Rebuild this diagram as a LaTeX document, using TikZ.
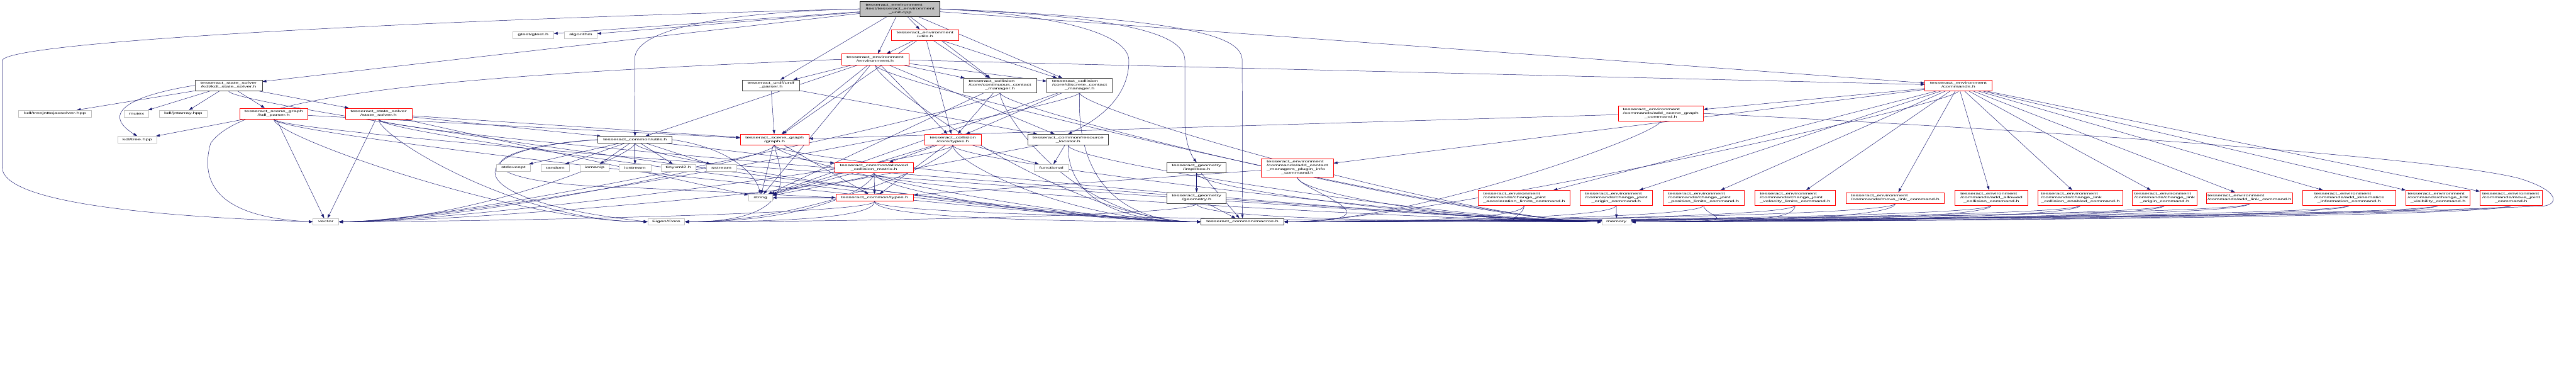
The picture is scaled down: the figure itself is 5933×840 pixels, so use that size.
\documentclass[tikz,border=0pt]{standalone}
\usepackage{fontspec}
\setmainfont{Liberation Sans}[FakeStretch=1.85]
\usetikzlibrary{arrows.meta,backgrounds}
\definecolor{edgeblue}{HTML}{191970}
\definecolor{boxred}{HTML}{FF0000}
\definecolor{boxgray}{HTML}{BFBFBF}
\definecolor{boxdark}{HTML}{404040}
% first lines flush left, last line centred (doxygen style)
\newcommand{\dlines}[2]{\begin{tabular}{@{}l@{}}#1\\\multicolumn{1}{@{}c@{}}{#2}\end{tabular}}

\begin{document}
\begin{tikzpicture}[x=1pt,y=1pt,line cap=round,
  incbox/.style={draw,fill=white,line width=0.9pt,inner sep=0pt,
    font=\fontsize{7}{8.7}\selectfont},
  redbox/.style={incbox,draw=boxred},
  darkbox/.style={incbox,draw=boxdark},
  sysbox/.style={incbox,draw=boxgray,minimum height=15.5pt},
  mainbox/.style={incbox,draw=black,fill=boxgray},
  edge/.style={draw=edgeblue,line width=0.7pt,-{Triangle[length=9pt,width=6pt]}}]
  \useasboundingbox (0,0) rectangle (5933,-840);

  % top rows
  \node[mainbox,minimum width=184pt,minimum height=35pt] (main) at (2073,-20.5)
    {\dlines{tesseract\_environment\\/test/tesseract\_environment}{\_unit.cpp}};
  \node[redbox,minimum width=155pt,minimum height=25pt] (eutils) at (2130.5,-80.5)
    {\dlines{tesseract\_environment}{/utils.h}};
  \node[redbox,minimum width=155pt,minimum height=25pt] (env) at (2015.5,-136.5)
    {\dlines{tesseract\_environment}{/environment.h}};
  \node[sysbox,minimum width=94pt] (gtest) at (1228,-80.5) {gtest/gtest.h};
  \node[sysbox,minimum width=75pt] (algo) at (1337.5,-80.5) {algorithm};
  \node[darkbox,minimum width=155pt,minimum height=25pt] (kss) at (526.5,-196.5)
    {\dlines{tesseract\_state\_solver}{/kdl/kdl\_state\_solver.h}};
  \node[darkbox,minimum width=131pt,minimum height=25pt] (urdf) at (1775.5,-196.5)
    {\dlines{tesseract\_urdf/urdf}{\_parser.h}};
  \node[darkbox,minimum width=168pt,minimum height=33pt] (cont) at (2303,-196.5)
    {\dlines{tesseract\_collision\\/core/continuous\_contact}{\_manager.h}};
  \node[darkbox,minimum width=151pt,minimum height=33pt] (disc) at (2486.5,-196.5)
    {\dlines{tesseract\_collision\\/core/discrete\_contact}{\_manager.h}};
  \node[redbox,minimum width=155pt,minimum height=25pt] (cmds) at (4510.5,-196.5)
    {\dlines{tesseract\_environment}{/commands.h}};

  % middle rows
  \node[sysbox,minimum width=167pt] (tjac) at (126.5,-261.5) {kdl/treejnttojacsolver.hpp};
  \node[sysbox,minimum width=57pt] (mutex) at (314.5,-261.5) {mutex};
  \node[sysbox,minimum width=110pt] (jnt) at (422,-261.5) {kdl/jntarray.hpp};
  \node[redbox,minimum width=157pt,minimum height=25pt] (kpar) at (630.5,-261.5)
    {\dlines{tesseract\_scene\_graph}{/kdl\_parser.h}};
  \node[redbox,minimum width=154pt,minimum height=25pt] (ssol) at (872,-261.5)
    {\dlines{tesseract\_state\_solver}{/state\_solver.h}};
  \node[redbox,minimum width=196pt,minimum height=34pt] (asg) at (3825,-261)
    {\dlines{tesseract\_environment\\/commands/add\_scene\_graph}{\_command.h}};
  \node[sysbox,minimum width=90pt] (tree) at (316,-321.5) {kdl/tree.hpp};
  \node[darkbox,minimum width=171pt,minimum height=15pt] (cutils) at (1462.5,-321.5)
    {tesseract\_common/utils.h};
  \node[redbox,minimum width=158pt,minimum height=25pt] (graph) at (1784,-321.5)
    {\dlines{tesseract\_scene\_graph}{/graph.h}};
  \node[redbox,minimum width=131pt,minimum height=25pt] (coltypes) at (2194.5,-321.5)
    {\dlines{tesseract\_collision}{/core/types.h}};
  \node[darkbox,minimum width=186pt,minimum height=25pt] (resloc) at (2460,-321.5)
    {\dlines{tesseract\_common/resource}{\_locator.h}};
  \node[sysbox,minimum width=79pt] (stdexc) at (1182.5,-386) {stdexcept};
  \node[sysbox,minimum width=65pt] (random) at (1278.5,-386) {random};
  \node[sysbox,minimum width=67pt] (iomanip) at (1369.5,-386) {iomanip};
  \node[sysbox,minimum width=73pt] (iostream) at (1462.5,-386) {iostream};
  \node[sysbox,minimum width=79pt] (tinyxml) at (1562.5,-386) {tinyxml2.h};
  \node[sysbox,minimum width=69pt] (sstream) at (1661.5,-386) {sstream};
  \node[redbox,minimum width=182pt,minimum height=24pt] (acm) at (2013,-386)
    {\dlines{tesseract\_common/allowed}{\_collision\_matrix.h}};
  \node[sysbox,minimum width=79pt] (functional) at (2421.5,-386) {functional};
  \node[darkbox,minimum width=136pt,minimum height=24pt] (box) at (2756,-386)
    {\dlines{tesseract\_geometry}{/impl/box.h}};
  \node[redbox,minimum width=166pt,minimum height=42pt] (acmp) at (2988,-386)
    {\dlines{tesseract\_environment\\/commands/add\_contact\\\_managers\_plugin\_info}{\_command.h}};
  \node[sysbox,minimum width=55pt] (string) at (1751.5,-455) {string};
  \node[redbox,minimum width=179pt,minimum height=16pt] (comtypes) at (2014.5,-455)
    {tesseract\_common/types.h};
  \node[darkbox,minimum width=136pt,minimum height=25pt] (geom) at (2756,-455.5)
    {\dlines{tesseract\_geometry}{/geometry.h}};

  % command headers
  \node[redbox,minimum width=211pt,minimum height=34pt] (acc) at (3510.5,-455)
    {\dlines{tesseract\_environment\\/commands/change\_joint}{\_acceleration\_limits\_command.h}};
  \node[redbox,minimum width=167pt,minimum height=34pt] (jorg) at (3722.5,-455)
    {\dlines{tesseract\_environment\\/commands/change\_joint}{\_origin\_command.h}};
  \node[redbox,minimum width=187pt,minimum height=34pt] (jpos) at (3923.5,-455)
    {\dlines{tesseract\_environment\\/commands/change\_joint}{\_position\_limits\_command.h}};
  \node[redbox,minimum width=185pt,minimum height=34pt] (jvel) at (4134.5,-455)
    {\dlines{tesseract\_environment\\/commands/change\_joint}{\_velocity\_limits\_command.h}};
  \node[redbox,minimum width=226pt,minimum height=25pt] (mlink) at (4365,-455.5)
    {\dlines{tesseract\_environment}{/commands/move\_link\_command.h}};
  \node[redbox,minimum width=167pt,minimum height=34pt] (aacm) at (4586.5,-455)
    {\dlines{tesseract\_environment\\/commands/add\_allowed}{\_collision\_command.h}};
  \node[redbox,minimum width=195pt,minimum height=34pt] (lcol) at (4791.5,-455)
    {\dlines{tesseract\_environment\\/commands/change\_link}{\_collision\_enabled\_command.h}};
  \node[redbox,minimum width=149pt,minimum height=34pt] (lorg) at (4985.5,-455)
    {\dlines{tesseract\_environment\\/commands/change\_link}{\_origin\_command.h}};
  \node[redbox,minimum width=198pt,minimum height=25pt] (alink) at (5181,-455.5)
    {\dlines{tesseract\_environment}{/commands/add\_link\_command.h}};
  \node[redbox,minimum width=215pt,minimum height=34pt] (akin) at (5410.5,-455)
    {\dlines{tesseract\_environment\\/commands/add\_kinematics}{\_information\_command.h}};
  \node[redbox,minimum width=148pt,minimum height=34pt] (lvis) at (5615,-455)
    {\dlines{tesseract\_environment\\/commands/change\_link}{\_visibility\_command.h}};
  \node[redbox,minimum width=143pt,minimum height=34pt] (mjoint) at (5783.5,-455)
    {\dlines{tesseract\_environment\\/commands/move\_joint}{\_command.h}};

  % bottom row
  \node[sysbox,minimum width=59pt] (vector) at (750.5,-510.5) {vector};
  \node[sysbox,minimum width=85pt] (eigen) at (1534.5,-510.5) {Eigen/Core};
  \node[darkbox,minimum width=191pt,minimum height=15.5pt] (macros) at (2861.5,-510.5)
    {tesseract\_common/macros.h};
  \node[sysbox,minimum width=68pt] (memory) at (3723,-510.5) {memory};

  \begin{pgfonlayer}{background}
  % plain includes
  \foreach \src/\dst in {main/gtest,main/algo,main/kss,main/urdf,main/eutils,main/env,
      main/cont,main/disc,main/cmds,
      eutils/env,eutils/coltypes,eutils/cont,eutils/disc,eutils/graph,
      env/cutils,env/urdf,env/graph,env/string,env/cmds,env/resloc,env/coltypes,
      env/cont,env/disc,
      kss/tjac,kss/mutex,kss/jnt,kss/kpar,kss/ssol,
      kpar/tree,kpar/graph,kpar/vector,
      ssol/vector,ssol/graph,ssol/cutils,ssol/string,
      urdf/graph,urdf/resloc,
      cutils/stdexc,cutils/random,cutils/iomanip,cutils/iostream,cutils/tinyxml,
      cutils/sstream,cutils/acm,
      graph/string,graph/comtypes,
      coltypes/acm,coltypes/comtypes,coltypes/functional,coltypes/string,
      cont/coltypes,cont/string,disc/coltypes,disc/string,
      resloc/functional,resloc/string,
      acm/comtypes,acm/string,comtypes/string,
      box/geom,box/macros,geom/macros,
      cmds/acmp,cmds/asg,cmds/acc,cmds/jorg,cmds/jpos,cmds/jvel,cmds/mlink,cmds/aacm,
      cmds/lcol,cmds/lorg,cmds/alink,cmds/akin,cmds/lvis,cmds/mjoint,
      asg/graph,acmp/comtypes,jorg/memory}
    \draw[edge] (\src) -- (\dst);
  % bundles running in along the bottom row, from the left
  \foreach \src/\dst in {kpar/eigen,ssol/eigen,
      env/macros,kss/macros,kpar/macros,ssol/macros,cutils/macros,graph/macros,
      coltypes/macros,cont/macros,disc/macros,resloc/macros,acm/macros,comtypes/macros,
      env/memory,kpar/memory,ssol/memory,graph/memory,coltypes/memory,cont/memory,
      disc/memory,resloc/memory,acm/memory,comtypes/memory,box/memory,geom/memory,
      acmp/memory,acc/memory}
    \draw[edge] (\src.south) .. controls +(0,-40) and +(-300,0) .. (\dst.west);
  % ... and from the right
  \foreach \src/\dst in {cutils/vector,graph/vector,coltypes/vector,cont/vector,
      disc/vector,acm/vector,comtypes/vector,
      graph/eigen,coltypes/eigen,acm/eigen,comtypes/eigen,geom/eigen,
      acmp/macros,asg/macros,cmds/macros,
      acc/macros,jorg/macros,jpos/macros,jvel/macros,mlink/macros,aacm/macros,
      lcol/macros,lorg/macros,alink/macros,akin/macros,lvis/macros,mjoint/macros,
      jpos/memory,jvel/memory,mlink/memory,aacm/memory,lcol/memory,lorg/memory,
      alink/memory,akin/memory,lvis/memory,mjoint/memory}
    \draw[edge] (\src.south) .. controls +(0,-30) and +(300,0) .. (\dst.east);
  % long detours
  \draw[edge] (main.west) .. controls (1000,-45) and (5,-95) .. (5,-140) -- (5,-385)
    .. controls (5,-460) and (300,-497) .. (vector.west);
  \draw[edge] (env.west) .. controls (1000,-175) and (560,-220) .. (485,-330)
    .. controls (460,-420) and (500,-500) .. (vector.west);
  \draw[edge] (main.west) .. controls (1600,-30) and (1462,-80) .. (1462,-135) -- (cutils.north);
  \draw[edge] (main.east) .. controls (2450,-35) and (2600,-80) .. (2600,-140)
    .. controls (2600,-230) and (2520,-280) .. (resloc.north);
  \draw[edge] (main.east) .. controls (2650,-40) and (2729,-90) .. (2729,-140) -- (2729,-280)
    .. controls (2729,-330) and (2745,-360) .. (box.north);
  \draw[edge] (main.east) .. controls (2780,-45) and (2861,-90) .. (2861,-140) -- (macros.north);
  \draw[edge] (kss.west) .. controls (300,-220) and (230,-260) .. (tree.north);
  \draw[edge] (cutils.west) .. controls (1060,-345) and (1070,-425) .. (1460,-432) -- (comtypes.west);
  \draw[edge] (cutils.west) .. controls (1050,-340) and (1040,-460) .. (eigen.west);
  \draw[edge] (cutils.east) .. controls (1680,-340) and (1740,-400) .. (string.north);
  \draw[edge] (asg.east) .. controls (4700,-300) and (5600,-360) .. (5800,-410)
    .. controls (5900,-440) and (5890,-470) .. (5860,-474)
    .. controls (5400,-495) and (4300,-505) .. (memory.east);
  \end{pgfonlayer}
\end{tikzpicture}
\end{document}
